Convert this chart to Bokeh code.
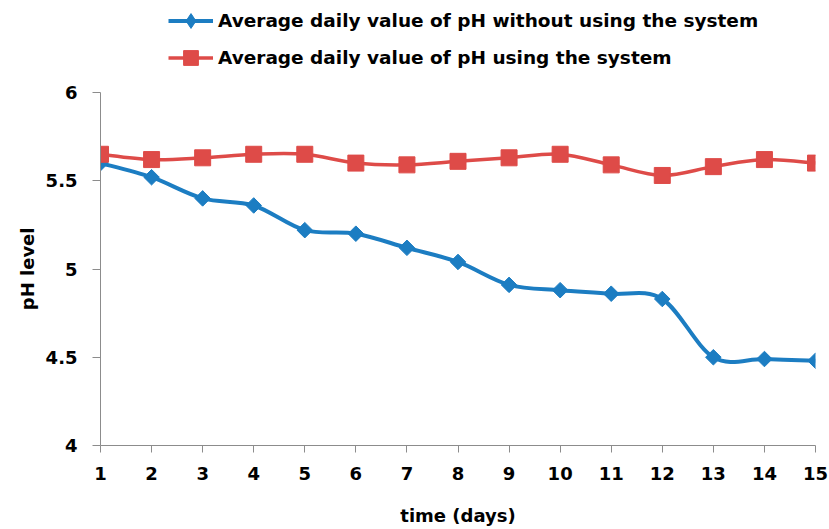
import numpy as np
from bokeh.plotting import figure
from bokeh.models import ColumnDataSource, Range1d, FixedTicker, Legend, LegendItem, Title
from bokeh.embed import file_html
from bokeh.resources import INLINE

# ---- data ----
days = list(range(1, 16))
ph_without = [5.60, 5.52, 5.40, 5.36, 5.22, 5.20, 5.12, 5.04, 4.91, 4.88, 4.86, 4.83, 4.50, 4.49, 4.48]
ph_with = [5.65, 5.62, 5.63, 5.65, 5.65, 5.60, 5.59, 5.61, 5.63, 5.65, 5.59, 5.53, 5.58, 5.62, 5.60]
y_ticks = [4, 4.5, 5, 5.5, 6]
y_tick_labels = ["4", "4.5", "5", "5.5", "6"]
x_label = "time (days)"
y_label = "pH level"
name_without = "Average daily value of pH without using the system"
name_with = "Average daily value of pH using the system"

BLUE = "#1C7DC2"
RED = "#DE4B48"
AXIS = "#8C8C8C"
FONT = "DejaVu Sans"

Y_MIN, Y_MAX = 4, 6
# extra headroom above the axis so the legend sits inside the frame (layout only)
Y_TOP = Y_MAX + 92 / 176.5


def smooth_segments(xs, ys):
    """Bezier segments through the data points (Excel-like smoothed line)."""
    x = np.asarray(xs, float)
    y = np.asarray(ys, float)
    xp = np.concatenate([[x[0]], x, [x[-1]]])
    yp = np.concatenate([[y[0]], y, [y[-1]]])
    n = len(x)
    d = dict(x0=[], y0=[], x1=[], y1=[], cx0=[], cy0=[], cx1=[], cy1=[])
    for i in range(n - 1):
        d["x0"].append(x[i]); d["y0"].append(y[i])
        d["x1"].append(x[i + 1]); d["y1"].append(y[i + 1])
        d["cx0"].append(x[i] + (x[i + 1] - xp[i]) / 6.0)
        d["cy0"].append(y[i] + (y[i + 1] - yp[i]) / 6.0)
        d["cx1"].append(x[i + 1] - (xp[i + 3] - x[i]) / 6.0)
        d["cy1"].append(y[i + 1] - (yp[i + 3] - y[i]) / 6.0)
    return ColumnDataSource(d)


p = figure(width=829, height=529, output_backend="svg", toolbar_location=None,
           x_range=Range1d(days[0], days[-1]), y_range=Range1d(Y_MIN, Y_TOP),
           min_border_left=100, min_border_right=14, min_border_top=0, min_border_bottom=84)
p.outline_line_color = None
p.grid.visible = False
p.background_fill_color = "white"
p.border_fill_color = "white"

b_line = p.bezier(x0="x0", y0="y0", x1="x1", y1="y1", cx0="cx0", cy0="cy0", cx1="cx1", cy1="cy1",
                  source=smooth_segments(days, ph_without), line_color=BLUE, line_width=4)
b_pts = p.scatter(days, ph_without, marker="square", angle=np.pi / 4, size=11,
                  fill_color=BLUE, line_color=BLUE, line_width=1)
r_line = p.bezier(x0="x0", y0="y0", x1="x1", y1="y1", cx0="cx0", cy0="cy0", cx1="cx1", cy1="cy1",
                  source=smooth_segments(days, ph_with), line_color=RED, line_width=3.5)
r_pts = p.scatter(days, ph_with, marker="square", size=16,
                  fill_color=RED, line_color=RED, line_width=1)
# hidden diamond renderer of the same series, used only as the legend key
b_key = p.scatter(days, ph_without, marker="diamond", size=11,
                  fill_color=BLUE, line_color=BLUE, line_width=1, visible=False)

# axes
for ax in (p.xaxis[0], p.yaxis[0]):
    ax.axis_line_color = AXIS
    ax.major_tick_line_color = AXIS
    ax.minor_tick_line_color = None
    ax.major_tick_in = 0
    ax.major_label_text_font = FONT
    ax.major_label_text_font_style = "bold"
    ax.major_label_text_font_size = "18px"
    ax.major_label_text_color = "black"
    ax.axis_label_text_font = FONT
    ax.axis_label_text_font_style = "bold"
    ax.axis_label_text_font_size = "18px"
    ax.axis_label_text_color = "black"

p.xaxis.ticker = FixedTicker(ticks=days)
p.xaxis.major_tick_out = 7
p.xaxis.major_label_standoff = 14
p.xaxis.axis_label = x_label
p.xaxis.axis_label_standoff = 22

p.yaxis.ticker = FixedTicker(ticks=y_ticks)
p.yaxis.bounds = (Y_MIN, Y_MAX)
p.yaxis.major_label_overrides = {t: l for t, l in zip(y_ticks, y_tick_labels)}
p.yaxis.major_tick_out = 8
p.yaxis.major_label_standoff = 15

# y-axis title centred on the visible 4..6 axis
p.add_layout(Title(text=y_label, align="right", offset=227, vertical_align="middle",
                   text_font=FONT, text_font_style="bold", text_font_size="18px",
                   text_color="black", standoff=8), "left")

legend = Legend(items=[LegendItem(label=name_without, renderers=[b_line, b_key]),
                       LegendItem(label=name_with, renderers=[r_line, r_pts])],
                location=(68, 369), orientation="vertical",
                glyph_width=45, glyph_height=37, spacing=0, label_standoff=5,
                padding=0, margin=0, border_line_color=None, background_fill_alpha=0,
                inactive_fill_alpha=0,
                label_text_font=FONT, label_text_font_style="bold",
                label_text_font_size="18.5px", label_text_color="black")
p.add_layout(legend, "center")

open("out.html", "w").write(file_html(p, INLINE))
